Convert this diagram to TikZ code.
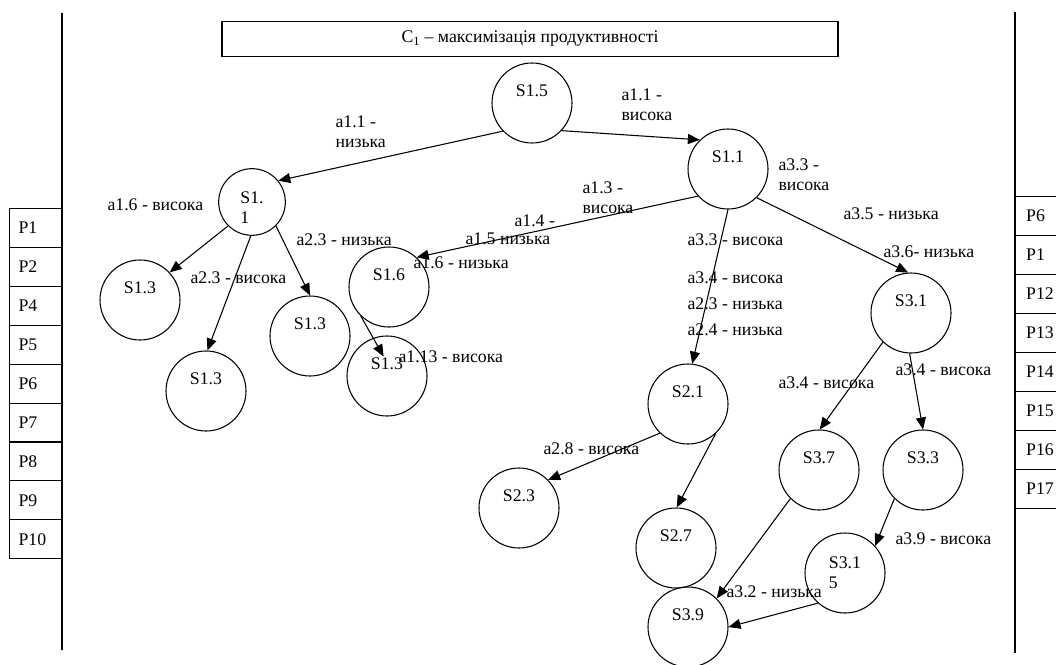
\documentclass[tikz,border=0pt]{standalone}
\usepackage{fontspec}
\setmainfont{Liberation Serif}
\usetikzlibrary{arrows.meta}

\begin{document}
\begin{tikzpicture}[x=0.75pt, y=-0.75pt, line width=0.8pt,
  every node/.style={font=\fontsize{13.3}{15}\selectfont},
  circ/.style={circle, draw, minimum size=60pt, inner sep=0pt},
  st/.style={circ, label={[yshift=9pt]center:#1}},
  arr/.style={-{Triangle[length=9pt,width=7.5pt]}},
  lbl/.style={anchor=west, inner sep=0pt, align=left},
  cell/.style={draw, anchor=north west, minimum height=29.2pt, text width=#1, align=left}
]
\clip (0,0) rectangle (1056,664);
\fill[white] (0,0) rectangle (1056,664);

% Side rules
\draw (62,13) -- (62,650);
\draw (1015,12) -- (1015,653);

% Title
\node[draw, minimum width=462pt, minimum height=26pt] (title) at (530,39) {C\textsubscript{1} – максимізація продуктивності};

% Parameter columns
\foreach \p [count=\i from 0] in {P1,P2,P4,P5,P6,P7,P8,P9,P10}
  \node[cell=26pt, inner xsep=6.75pt] (l\p) at (9,208+38.9*\i) {\p};
\foreach \p [count=\i from 0] in {P6,P1,P12,P13,P14,P15,P16,P17}
  \node[cell=22pt, inner xsep=8pt] (r\p) at (1015,196+39*\i) {\p};

% States
\node[st=S1.5] (s15) at (532,103) {};
\node[circ, minimum size=50pt, label={[align=left, yshift=-4pt]center:{S1.\\1}}] (s11l) at (252,202) {};
\node[st=S1.1] (s11r) at (728,169) {};
\node[st=S1.3] (s13l) at (140,300) {};
\node[st=S1.3] (s13m) at (206,391) {};
\node[st=S1.3] (s13r) at (310,336) {};
\node[st=S1.6] (s16) at (389,287) {};
\node[st=S1.3] (s13s) at (387,376) {};
\node[st=S2.1] (s21) at (688,404) {};
\node[st=S2.3] (s23) at (519,508) {};
\node[st=S2.7] (s27) at (676,548) {};
\node[st=S3.9] (s39) at (688,627) {};
\node[st=S3.1] (s31) at (911,313) {};
\node[st=S3.7] (s37) at (819,470) {};
\node[st=S3.3] (s33) at (923,470) {};
\node[circ, label={[align=left]center:{S3.1\\5}}] (s315) at (845,573) {};

% Transitions
\draw[arr] (s15.224) -- (s11l.39);
\draw[arr] (s15.317) -- (s11r.134);
\draw[arr] (s11l.225) -- (s13l.43);
\draw[arr] (s11l.268) -- (s13m.88);
\draw[arr] (s11l.315) -- (s13r.90);
\draw[arr] (s11r.222) -- (s16.47);
\draw[arr, shorten >=-16pt] (s16.226) -- (s13s.110);
\draw[arr] (s11r.270) -- (s21.84);
\draw[arr] (s11r.315) -- (s31.94);
\draw[arr] (s31.226) -- (s37.89);
\draw[arr] (s31.268) -- (s33.90);
\draw[arr] (s21.226) -- (s23.44);
\draw[arr] (s21.313) -- (s27.89);
\draw[arr] (s37.225) -- (s39.45);
\draw[arr] (s33.225) -- (s315.42);
\draw[arr] (s315.228) -- (s39.0);

% Labels
\node[lbl] (t1) at (335,132) {a1.1 -\\низька};
\node[lbl] (t2) at (621,105) {a1.1 -\\висока};
\node[lbl] (t3) at (107,205) {a1.6 - висока};
\node[lbl] (t4) at (296,240) {a2.3 - низька};
\node[lbl] (t5) at (190,278) {a2.3 - висока};
\node[lbl] (t6) at (582,198) {a1.3 -\\висока};
\node[lbl] (t7) at (514,221) {a1.4 -};
\node[lbl] (t8) at (465,239) {a1.5 низька};
\node[lbl] (t9) at (413,263) {a1.6 - низька};
\node[lbl] (t10) at (398,357) {a1.13 - висока};
\node[lbl] (t11) at (778,175) {a3.3 -\\висока};
\node[lbl] (t12) at (687,240) {a3.3 - висока};
\node[lbl] (t13) at (687,278) {a3.4 - висока};
\node[lbl] (t14) at (687,304) {a2.3 - низька};
\node[lbl] (t15) at (687,330) {a2.4 - низька};
\node[lbl] (t16) at (843,214) {a3.5 - низька};
\node[lbl] (t17) at (883,252) {a3.6- низька};
\node[lbl] (t18) at (778,383) {a3.4 - висока};
\node[lbl] (t19) at (895,370) {a3.4 - висока};
\node[lbl] (t20) at (543,449) {a2.8 - висока};
\node[lbl] (t21) at (895,539) {a3.9 - висока};
\node[lbl] (t22) at (726,592) {a3.2 - низька};

\end{tikzpicture}
\end{document}
